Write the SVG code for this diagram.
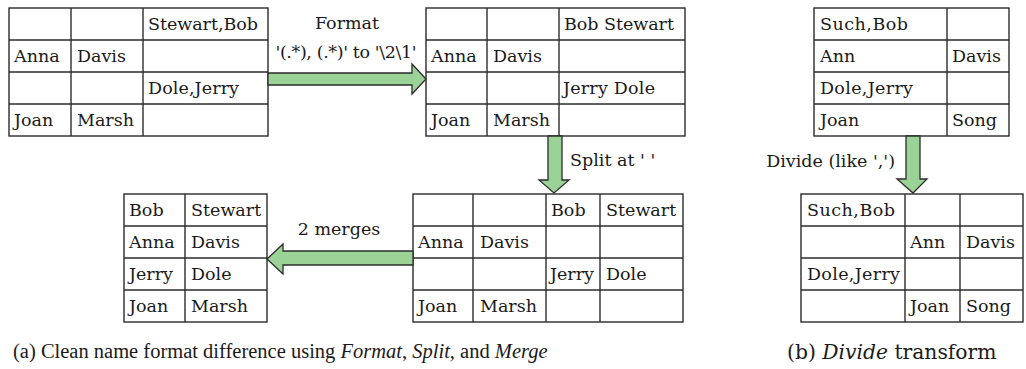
<svg xmlns="http://www.w3.org/2000/svg" width="1026" height="369" viewBox="0 0 1026 369">
  <style>
    .grid { fill: #ffffff; stroke: #2b2b2b; stroke-width: 1.4; }
    .line { stroke: #2b2b2b; stroke-width: 1.4; }
    .cell { font-family: "DejaVu Serif", "Liberation Serif", serif; font-size: 17.5px; fill: #1a1a1a; }
    .label { font-family: "DejaVu Serif", "Liberation Serif", serif; font-size: 17.5px; fill: #1a1a1a; }
    .caption { font-family: "DejaVu Serif", "Liberation Serif", serif; font-size: 20.3px; fill: #1a1a1a; }
    .caption-narrow { font-family: "Liberation Serif", "DejaVu Serif", serif; font-size: 20.5px; fill: #1a1a1a; }
    .it { font-style: italic; }
    .arrow { fill: #9bd397; stroke: #2b2b2b; stroke-width: 1.3; stroke-linejoin: miter; }
  </style>

  <!-- Table: raw names -->
  <g id="table-raw">
    <rect class="grid" x="9" y="8" width="259" height="128"/>
    <line class="line" x1="71" y1="8" x2="71" y2="136"/>
    <line class="line" x1="143" y1="8" x2="143" y2="136"/>
    <line class="line" x1="9" y1="40" x2="268" y2="40"/>
    <line class="line" x1="9" y1="72" x2="268" y2="72"/>
    <line class="line" x1="9" y1="104" x2="268" y2="104"/>
    <text class="cell" x="148" y="30" textLength="110">Stewart,Bob</text>
    <text class="cell" x="14" y="62">Anna</text>
    <text class="cell" x="77" y="62">Davis</text>
    <text class="cell" x="148" y="94" textLength="91">Dole,Jerry</text>
    <text class="cell" x="14" y="126">Joan</text>
    <text class="cell" x="77" y="126">Marsh</text>
  </g>

  <!-- Table: after format -->
  <g id="table-formatted">
    <rect class="grid" x="426" y="8" width="259" height="128"/>
    <line class="line" x1="487" y1="8" x2="487" y2="136"/>
    <line class="line" x1="559" y1="8" x2="559" y2="136"/>
    <line class="line" x1="426" y1="40" x2="685" y2="40"/>
    <line class="line" x1="426" y1="72" x2="685" y2="72"/>
    <line class="line" x1="426" y1="104" x2="685" y2="104"/>
    <text class="cell" x="564" y="30" textLength="110">Bob Stewart</text>
    <text class="cell" x="431" y="62">Anna</text>
    <text class="cell" x="493" y="62">Davis</text>
    <text class="cell" x="563" y="94" textLength="92">Jerry Dole</text>
    <text class="cell" x="431" y="126">Joan</text>
    <text class="cell" x="493" y="126">Marsh</text>
  </g>

  <!-- Table: after split -->
  <g id="table-split">
    <rect class="grid" x="413" y="194" width="270" height="128"/>
    <line class="line" x1="473" y1="194" x2="473" y2="322"/>
    <line class="line" x1="546" y1="194" x2="546" y2="322"/>
    <line class="line" x1="600" y1="194" x2="600" y2="322"/>
    <line class="line" x1="413" y1="226" x2="683" y2="226"/>
    <line class="line" x1="413" y1="258" x2="683" y2="258"/>
    <line class="line" x1="413" y1="290" x2="683" y2="290"/>
    <text class="cell" x="551" y="216">Bob</text>
    <text class="cell" x="606" y="216">Stewart</text>
    <text class="cell" x="418" y="248">Anna</text>
    <text class="cell" x="480" y="248">Davis</text>
    <text class="cell" x="550" y="280">Jerry</text>
    <text class="cell" x="606" y="280">Dole</text>
    <text class="cell" x="418" y="312">Joan</text>
    <text class="cell" x="480" y="312">Marsh</text>
  </g>

  <!-- Table: after merges -->
  <g id="table-merged">
    <rect class="grid" x="124" y="194" width="143" height="128"/>
    <line class="line" x1="185" y1="194" x2="185" y2="322"/>
    <line class="line" x1="124" y1="226" x2="267" y2="226"/>
    <line class="line" x1="124" y1="258" x2="267" y2="258"/>
    <line class="line" x1="124" y1="290" x2="267" y2="290"/>
    <text class="cell" x="129" y="216">Bob</text>
    <text class="cell" x="191" y="216">Stewart</text>
    <text class="cell" x="129" y="248">Anna</text>
    <text class="cell" x="191" y="248">Davis</text>
    <text class="cell" x="129" y="280">Jerry</text>
    <text class="cell" x="191" y="280">Dole</text>
    <text class="cell" x="129" y="312">Joan</text>
    <text class="cell" x="191" y="312">Marsh</text>
  </g>

  <!-- Table: divide input -->
  <g id="table-divide-in">
    <rect class="grid" x="814" y="8" width="195" height="128"/>
    <line class="line" x1="947" y1="8" x2="947" y2="136"/>
    <line class="line" x1="814" y1="40" x2="1009" y2="40"/>
    <line class="line" x1="814" y1="72" x2="1009" y2="72"/>
    <line class="line" x1="814" y1="104" x2="1009" y2="104"/>
    <text class="cell" x="820" y="30" textLength="88">Such,Bob</text>
    <text class="cell" x="820" y="62">Ann</text>
    <text class="cell" x="952" y="62">Davis</text>
    <text class="cell" x="820" y="94" textLength="93">Dole,Jerry</text>
    <text class="cell" x="820" y="126">Joan</text>
    <text class="cell" x="952" y="126">Song</text>
  </g>

  <!-- Table: divide output -->
  <g id="table-divide-out">
    <rect class="grid" x="801" y="194" width="222" height="128"/>
    <line class="line" x1="905" y1="194" x2="905" y2="322"/>
    <line class="line" x1="960" y1="194" x2="960" y2="322"/>
    <line class="line" x1="801" y1="226" x2="1023" y2="226"/>
    <line class="line" x1="801" y1="258" x2="1023" y2="258"/>
    <line class="line" x1="801" y1="290" x2="1023" y2="290"/>
    <text class="cell" x="807" y="216" textLength="88">Such,Bob</text>
    <text class="cell" x="910" y="248">Ann</text>
    <text class="cell" x="966" y="248">Davis</text>
    <text class="cell" x="807" y="280" textLength="93">Dole,Jerry</text>
    <text class="cell" x="910" y="312">Joan</text>
    <text class="cell" x="966" y="312">Song</text>
  </g>

  <!-- Block arrows with their operation labels -->
  <g id="connectors">
    <polygon class="arrow" points="268,73 412,73 412,64 426,79 412,94 412,85 268,85"/>
    <text class="label" x="347" y="29" text-anchor="middle">Format</text>
    <text class="label" x="346" y="58" text-anchor="middle" textLength="141">'(.*), (.*)' to '\2\1'</text>

    <polygon class="arrow" points="548,136 548,180 539,180 554,193 569,180 562,180 562,136"/>
    <text class="label" x="570" y="166">Split at ' '</text>

    <polygon class="arrow" points="413,251 283,251 283,244 267,259 283,274 283,265 413,265"/>
    <text class="label" x="339" y="235" text-anchor="middle">2 merges</text>

    <polygon class="arrow" points="906,136 906,179 897,179 913,193 927,179 920,179 920,136"/>
    <text class="label" x="895" y="167" text-anchor="end">Divide (like ',')</text>
  </g>

  <!-- Captions -->
  <text class="caption-narrow" x="13" y="358">(a) Clean name format difference using <tspan class="it">Format</tspan>, <tspan class="it">Split</tspan>, and <tspan class="it">Merge</tspan></text>
  <text class="caption" x="787" y="359">(b) <tspan class="it">Divide</tspan> transform</text>
</svg>
